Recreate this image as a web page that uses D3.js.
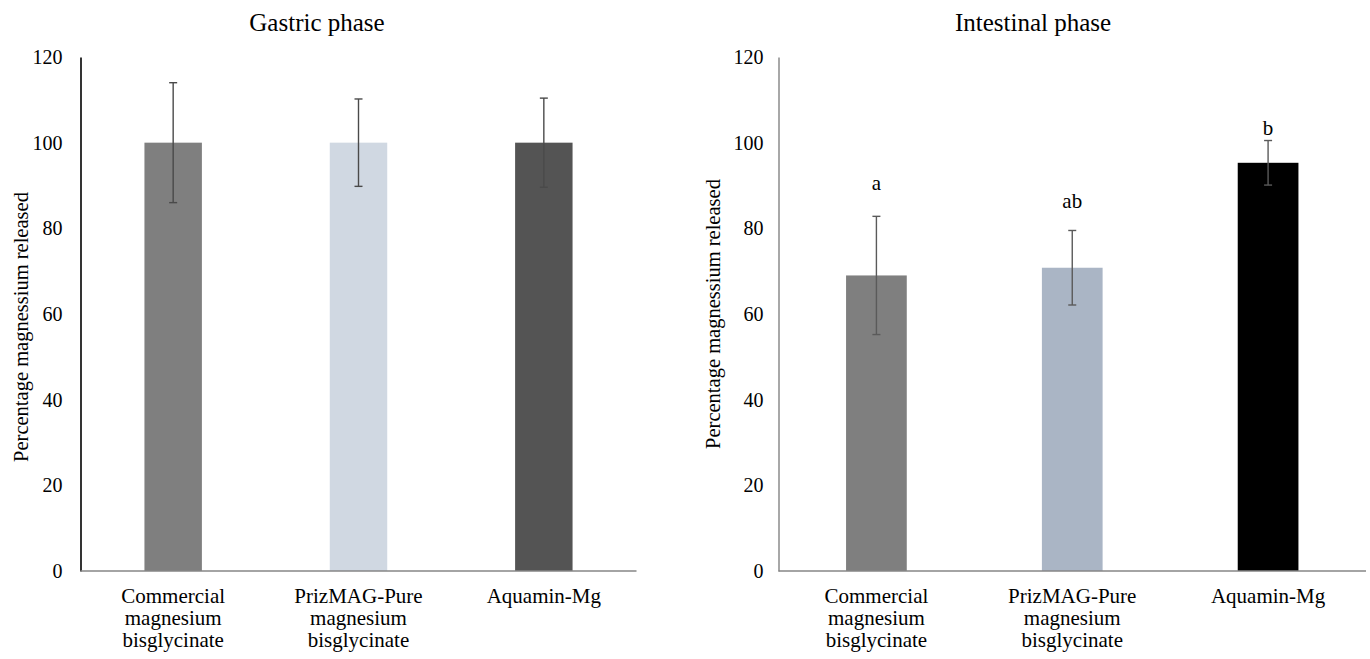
<!DOCTYPE html>
<html>
<head>
<meta charset="utf-8">
<script src="https://cdn.jsdelivr.net/npm/d3@7"></script>
<style>
  body { margin: 0; background: #fff; }
  svg { display: block; font-family: "Liberation Serif", "Times New Roman", serif; }
</style>
</head>
<body>
<svg id="chart" width="1370" height="659"></svg>
<script>
// ---- data ----
var categories = [
    ["Commercial", "magnesium", "bisglycinate"],
    ["PrizMAG-Pure", "magnesium", "bisglycinate"],
    ["Aquamin-Mg"]
];
var yTicks = [0, 20, 40, 60, 80, 100, 120];

var gastricMeans = [100, 100, 100];
var gastricErr = [14, 10.2, 10.4];
var gastricColors = ["#7f7f7f", "#d0d8e2", "#545454"];

var intestinalMeans = [69, 70.8, 95.3];
var intestinalErr = [13.8, 8.7, 5.2];
var intestinalColors = ["#7f7f7f", "#aab5c5", "#000000"];
var intestinalLetters = ["a", "ab", "b"];
var letterValues = [89, 84.8, 101.8];   // where the letters sit, in y units

var yTitle = "Percentage magnessium released";

var svg = d3.select("#chart");

// shared y scale (both panels use the same vertical extent)
var y = d3.scaleLinear().domain([0, 120]).range([571, 57]);

function drawPanel(opt) {
    var g = svg.append("g");

    var x = d3.scaleBand()
        .domain(d3.range(categories.length))
        .range([opt.x0, opt.x1])
        .paddingInner(0.69)
        .paddingOuter(0.345);

    // title
    g.append("text")
        .attr("x", opt.titleX)
        .attr("y", 31)
        .attr("text-anchor", "middle")
        .style("font-size", "25px")
        .text(opt.title);

    // y axis (line + labels, no tick marks)
    var yAxis = g.append("g")
        .attr("transform", "translate(" + opt.x0 + ",0)")
        .call(d3.axisLeft(y).tickValues(yTicks).tickSize(0).tickPadding(opt.tickPad));
    yAxis.select(".domain").attr("stroke", opt.yAxisColor).attr("stroke-width", opt.yAxisWidth);
    yAxis.selectAll("text")
        .style("font-size", "20px")
        .style("font-family", "Liberation Serif, Times New Roman, serif")
        .attr("fill", "#000");

    g.append("text")
        .attr("transform", "translate(" + opt.yTitleX + "," + opt.yTitleY + ") rotate(-90)")
        .attr("text-anchor", "middle")
        .style("font-size", "20.5px")
        .text(yTitle);

    // bars
    g.selectAll(".bar")
        .data(opt.means)
        .enter()
        .append("rect")
        .attr("x", function (d, i) { return x(i); })
        .attr("y", function (d) { return y(d); })
        .attr("width", x.bandwidth())
        .attr("height", function (d) { return y(0) - y(d); })
        .attr("fill", function (d, i) { return opt.colors[i]; });

    // x axis line
    g.append("line")
        .attr("x1", opt.x0).attr("x2", opt.x1)
        .attr("y1", y(0)).attr("y2", y(0))
        .attr("stroke", "#868686")
        .attr("stroke-width", 1.5);

    // error bars
    var cap = 4;
    opt.means.forEach(function (m, i) {
        var cx = x(i) + x.bandwidth() / 2;
        var hi = y(m + opt.err[i]), lo = y(m - opt.err[i]);
        var eb = g.append("g").attr("stroke", opt.errColor).attr("stroke-width", 1.4);
        eb.append("line").attr("x1", cx).attr("x2", cx).attr("y1", hi).attr("y2", lo);
        eb.append("line").attr("x1", cx - cap).attr("x2", cx + cap).attr("y1", hi).attr("y2", hi);
        eb.append("line").attr("x1", cx - cap).attr("x2", cx + cap).attr("y1", lo).attr("y2", lo);
    });

    // category labels
    categories.forEach(function (lines, i) {
        var t = g.append("text")
            .attr("text-anchor", "middle")
            .style("font-size", "21px");
        lines.forEach(function (s, k) {
            t.append("tspan")
                .attr("x", x(i) + x.bandwidth() / 2)
                .attr("y", 603 + k * 22)
                .text(s);
        });
    });

    // significance letters
    if (opt.letters) {
        opt.letters.forEach(function (s, i) {
            g.append("text")
                .attr("x", x(i) + x.bandwidth() / 2)
                .attr("y", y(opt.letterValues[i]))
                .attr("text-anchor", "middle")
                .style("font-size", "21px")
                .text(s);
        });
    }
}

drawPanel({
    title: "Gastric phase", titleX: 317,
    x0: 80.5, x1: 636.5,
    means: gastricMeans, err: gastricErr, colors: gastricColors,
    yAxisColor: "#000", yAxisWidth: 1.6, tickPad: 18,
    yTitleX: 28, yTitleY: 327,
    errColor: "#4a4a4a"
});

drawPanel({
    title: "Intestinal phase", titleX: 1033,
    x0: 778.5, x1: 1366,
    means: intestinalMeans, err: intestinalErr, colors: intestinalColors,
    yAxisColor: "#6e6e6e", yAxisWidth: 1.2, tickPad: 15,
    yTitleX: 720, yTitleY: 314,
    errColor: "#5a5a5a",
    letters: intestinalLetters, letterValues: letterValues
});
</script>
</body>
</html>
